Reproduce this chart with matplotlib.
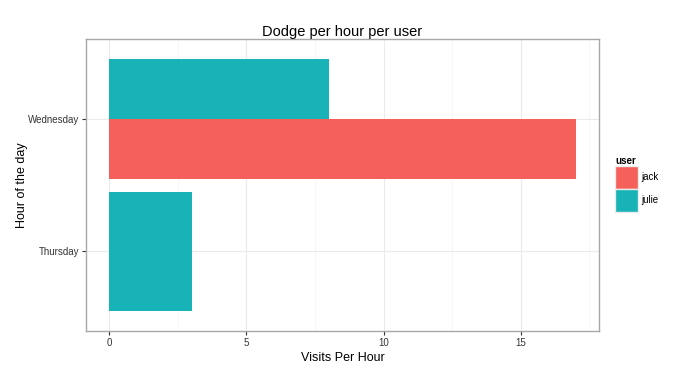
import numpy as np
import matplotlib
matplotlib.use("Agg")
from matplotlib import pyplot as plt
from matplotlib.patches import Patch

plt.rcParams['font.family'] = ['Liberation Sans', 'DejaVu Sans']

# datos
dias = ["Thursday", "Wednesday"]
usuarios = ["jack", "julie"]
fila_usuario = ["jack", "julie", "julie"]
fila_dia = ["Wednesday", "Wednesday", "Thursday"]
visitas = [17, 8, 3]

colores = {"jack": "#F5605B", "julie": "#17B3B7"}

fig = plt.figure(figsize=(6.95, 3.74), dpi=100)
ax = fig.add_axes([86/695, 1-331/374, (599-86)/695, (331-39.3)/374])

# barras con dodge (ancho total 0.9)
ancho = 0.9
for d_i, d in enumerate(dias):
    filas = [k for k in range(len(visitas)) if fila_dia[k] == d]
    filas.sort(key=lambda k: usuarios.index(fila_usuario[k]))
    n = len(filas)
    w = ancho / n
    for j, k in enumerate(filas):
        y0 = d_i + 1 - ancho/2 + j*w
        ax.barh(y0 + w/2, visitas[k], height=w, color=colores[fila_usuario[k]], zorder=3)

ax.set_xlim(-0.85, 17.85)
ax.set_ylim(0.4, 2.6)
ax.set_xticks([0, 5, 10, 15])
ax.set_xticks([2.5, 7.5, 12.5, 17.5], minor=True)
ax.set_yticks([1, 2])
ax.set_yticklabels(dias)
ax.grid(True, which='major', color='#EBEBEB', linewidth=0.8, zorder=0)
ax.grid(True, which='minor', axis='x', color='#F7F7F7', linewidth=0.8, zorder=0)
ax.tick_params(which='minor', length=0)
ax.tick_params(which='major', length=3, width=0.8, color='#333333', labelsize=7, labelcolor='#333333', pad=2)
for s in ax.spines.values():
    s.set_color('#A8A8A8')
    s.set_linewidth(1)

ax.set_title("Dodge per hour per user", fontsize=10.5, pad=1.5)
ax.set_xlabel("Visits Per Hour", fontsize=9, labelpad=3)
ax.set_ylabel("Hour of the day", fontsize=9, labelpad=0)

handles = [Patch(facecolor=colores[u], edgecolor='#EBEBEB', label=u) for u in usuarios]
leg = fig.legend(handles=handles, title="user", loc='upper left', bbox_to_anchor=(613/695, 1-154/374),
                 frameon=False, fontsize=7, title_fontproperties={'weight': 'bold', 'size': 7},
                 handlelength=2.37, handleheight=3.27, handletextpad=0.3, labelspacing=0.0,
                 borderaxespad=0, borderpad=0.2)
leg._legend_box.align = "left"

fig.savefig("out.png", dpi=100)
